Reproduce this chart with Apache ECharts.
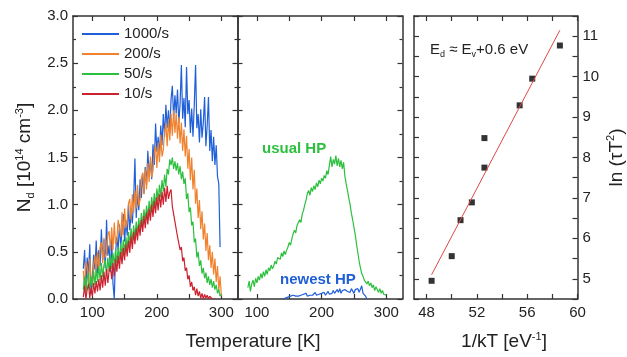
<!DOCTYPE html>
<html>
<head>
<meta charset="utf-8">
<script src="https://cdn.jsdelivr.net/npm/echarts@6/dist/echarts.min.js"></script>
<style>
  html, body { margin: 0; padding: 0; background: #fff; }
  #chart { width: 627px; height: 357px; }
</style>
</head>
<body>
<div id="chart"></div>
<script>
// temperature grid shared by all spectra [K]
const temps = [
  86, 88, 90, 92, 94, 96, 98, 100, 102, 104, 106, 108,
  110, 112, 114, 116, 118, 120, 122, 124, 126, 128, 130, 132,
  134, 136, 138, 140, 142, 144, 146, 148, 150, 152, 154, 156,
  158, 160, 162, 164, 166, 168, 170, 172, 174, 176, 178, 180,
  182, 184, 186, 188, 190, 192, 194, 196, 198, 200, 202, 204,
  206, 208, 210, 212, 214, 216, 218, 220, 222, 224, 226, 228,
  230, 232, 234, 236, 238, 240, 242, 244, 246, 248, 250, 252,
  254, 256, 258, 260, 262, 264, 266, 268, 270, 272, 274, 276,
  278, 280, 282, 284, 286, 288, 290, 292, 294, 296, 298, 300
];

// N_d [1e14 cm^-3], left panel
const nd1000 = [
  0.32, 0.52, 0.14, 0.44, 0.26, 0.58, 0.05, 0.22, 0.47, 0.31, 0.62, 0.27,
  0.52, 0.35, 0.74, 0.41, 0.63, 0.33, 0.84, 0.46, 0.57, 0.29, 0.64, 0.16,
  0.0, 0.49, 0.66, 0.52, 0.79, 0.56, 0.72, 0.9, 0.61, 0.84, 0.67, 1.0,
  0.73, 0.92, 0.8, 1.06, 1.49, 0.86, 1.12, 0.94, 1.27, 1.07, 1.33, 1.12,
  1.4, 1.21, 1.57, 1.31, 1.46, 1.27, 1.64, 1.42, 1.86, 1.56, 1.72, 1.51,
  1.84, 1.63, 1.96, 1.72, 2.06, 1.81, 2.0, 1.76, 2.12, 2.26, 1.91, 2.16,
  1.97, 2.22, 1.86, 2.07, 2.48, 1.91, 2.13, 1.82, 2.46, 1.96, 2.11, 1.76,
  2.02, 1.72, 2.06, 2.48, 1.81, 1.96, 1.66, 2.01, 1.71, 1.87, 2.14, 1.62,
  1.84, 2.14, 1.57, 1.79, 1.46, 1.72, 1.42, 1.63, 1.3, 1.22, 0.55, null
];
const nd200 = [
  0.3, 0.1, 0.4, 0.34, 0.16, 0.43, 0.2, 0.15, 0.37, 0.46, 0.26, 0.5,
  0.3, 0.55, 0.6, 0.38, 0.65, 0.44, 0.48, 0.68, 0.72, 0.51, 0.76, 0.52,
  0.81, 0.58, 0.62, 0.84, 0.86, 0.66, 0.92, 0.68, 0.96, 0.75, 0.81, 1.01,
  1.06, 0.84, 1.11, 0.91, 1.15, 0.96, 1.21, 0.99, 1.05, 1.28, 1.34, 1.11,
  1.38, 1.16, 1.44, 1.24, 1.51, 1.29, 1.36, 1.56, 1.62, 1.39, 1.66, 1.45,
  1.74, 1.51, 1.58, 1.78, 1.86, 1.62, 1.91, 1.68, 1.96, 1.73, 2.0, 1.76,
  1.97, 1.7, 1.93, 1.65, 1.87, 1.57, 1.8, 1.51, 1.73, 1.38, 1.59, 1.26,
  1.5, 1.16, 1.37, 1.01, 1.17, 0.86, 1.05, 0.74, 0.93, 0.63, 0.8, 0.51,
  0.7, 0.41, 0.57, 0.33, 0.5, 0.26, 0.43, 0.18, 0.35, 0.09, 0.24, 0.03
];
const nd50 = [
  0.1, 0.24, 0.07, 0.22, 0.28, 0.09, 0.24, 0.13, 0.3, 0.15, 0.32, 0.18,
  0.35, 0.2, 0.38, 0.23, 0.36, 0.41, 0.25, 0.44, 0.29, 0.47, 0.32, 0.49,
  0.35, 0.52, 0.38, 0.55, 0.41, 0.59, 0.45, 0.63, 0.48, 0.66, 0.52, 0.71,
  0.57, 0.75, 0.61, 0.78, 0.64, 0.82, 0.69, 0.86, 0.73, 0.91, 0.78, 0.95,
  0.82, 0.99, 0.86, 1.04, 0.9, 1.08, 0.95, 1.12, 0.99, 1.17, 1.04, 1.21,
  1.08, 1.26, 1.14, 1.32, 1.19, 1.38, 1.32, 1.48, 1.42, 1.5, 1.38, 1.46,
  1.36, 1.44, 1.32, 1.41, 1.27, 1.35, 1.22, 1.28, 1.06, 1.12, 0.92, 0.97,
  0.78, 0.82, 0.6, 0.64, 0.44, 0.5, 0.35, 0.41, 0.27, 0.33, 0.22, 0.28,
  0.17, 0.24, 0.15, 0.21, 0.12, 0.19, 0.1, 0.15, 0.06, 0.1, 0.03, 0.05
];
const nd10 = [
  0.02, 0.14, 0.0, 0.1, 0.16, 0.01, 0.12, 0.03, 0.17, 0.06, 0.19, 0.08,
  0.21, 0.09, 0.25, 0.12, 0.29, 0.14, 0.32, 0.17, 0.3, 0.35, 0.21, 0.38,
  0.24, 0.42, 0.29, 0.46, 0.32, 0.5, 0.37, 0.54, 0.41, 0.58, 0.45, 0.62,
  0.49, 0.67, 0.53, 0.71, 0.58, 0.75, 0.62, 0.79, 0.67, 0.84, 0.71, 0.88,
  0.75, 0.92, 0.79, 0.96, 0.83, 1.0, 0.87, 1.04, 0.91, 1.08, 0.94, 1.11,
  0.97, 1.14, 1.0, 1.18, 1.03, 1.2, 1.06, 1.13, 1.16, 0.98, 1.0, 0.82,
  0.82, 0.66, 0.67, 0.52, 0.55, 0.4, 0.44, 0.3, 0.33, 0.21, 0.25, 0.13,
  0.18, 0.09, 0.13, 0.04, 0.11, 0.03, 0.08, 0.01, 0.06, 0.0, 0.05, 0.01,
  0.04, 0.0, 0.03, 0.04, 0.0, 0.02, 0.0, null, null, null, null, null
];

// middle panel
const usualHP = [
  0.12, 0.19, 0.08, 0.16, 0.2, 0.13, 0.22, 0.17, 0.24, 0.2, 0.27, 0.22,
  0.29, 0.24, 0.31, 0.26, 0.33, 0.3, 0.36, 0.32, 0.35, 0.4, 0.37, 0.44,
  0.46, 0.42, 0.49, 0.45, 0.51, 0.47, 0.52, 0.55, 0.6, 0.57, 0.64, 0.69,
  0.73, 0.7, 0.78, 0.76, 0.84, 0.81, 0.9, 0.94, 1.0, 1.05, 1.12, 1.15,
  1.1, 1.18, 1.14, 1.2, 1.16, 1.23, 1.19, 1.26, 1.22, 1.28, 1.25, 1.31,
  1.28, 1.36, 1.32, 1.42, 1.51, 1.4, 1.48, 1.43, 1.52, 1.41, 1.49, 1.4,
  1.47, 1.38, 1.45, 1.3, 1.22, 1.15, 1.07, 1.0, 0.91, 0.84, 0.76, 0.68,
  0.58, 0.49, 0.4, 0.33, 0.27, 0.24, 0.2, 0.22, 0.16, 0.19, 0.14, 0.17,
  0.12, 0.15, 0.09, 0.13, 0.1, 0.07, 0.11, 0.06, 0.09, 0.05, 0.07, 0.04
];
const newestHP = [
  null, null, null, null, null, null, null, null, null, null, null, null,
  null, null, null, null, null, null, null, null, null, null, null, null,
  null, null, null, 0.0, 0.02, 0.01, 0.03, 0.02, 0.01, 0.03, 0.02, 0.04,
  0.02, 0.03, 0.05, 0.03, 0.02, 0.04, 0.03, 0.05, 0.04, 0.06, 0.03, 0.05,
  0.04, 0.06, 0.04, 0.05, 0.07, 0.04, 0.06, 0.05, 0.03, 0.06, 0.05, 0.07,
  0.04, 0.06, 0.08, 0.05, 0.07, 0.06, 0.09, 0.06, 0.08, 0.1, 0.07, 0.11,
  0.06, 0.09, 0.07, 0.1, 0.12, 0.08, 0.1, 0.07, 0.11, 0.09, 0.06, 0.1,
  0.08, 0.11, 0.07, 0.09, 0.14, 0.06, 0.08, 0.03, 0.0, null, null, null,
  null, null, null, null, null, null, null, null, null, null, null, null
];

// Arrhenius plot, right panel
const invKT = [48.4, 50.0, 50.7, 51.6, 52.6, 52.6, 55.4, 56.4, 58.6];
const lnTauT2 = [4.95, 5.56, 6.45, 6.89, 7.75, 8.48, 9.29, 9.95, 10.77];
const fitX = [48.4, 58.6];
const fitY = [5.1, 11.15];

// ticks
const tempLabels = [100, 200, 300];
const tempTicks = [100, 150, 200, 250, 300];
const invLabels = [48, 52, 56, 60];
const invTicks = [48, 50, 52, 54, 56, 58, 60];
const lnLabels = [5, 6, 7, 8, 9, 10, 11];
const lnTicks = [4.5, 5, 5.5, 6, 6.5, 7, 7.5, 8, 8.5, 9, 9.5, 10, 10.5, 11, 11.5];

const FONT = '"Liberation Sans", Arial, sans-serif';
const INK = '#222';
const C = { blue: '#1f5fd8', orange: '#f0822e', green: '#2cc03e', red: '#cc2230' };

const pairs = (xs, ys) => xs.map((x, i) => [x, ys[i]]);

const axisLine = { show: true, onZero: false, lineStyle: { color: '#333', width: 1.5 } };
const tickStyle = { color: '#333', width: 1.2 };
const labelStyle = { color: INK, fontSize: 15, fontFamily: FONT };
const rich = {
  a: { fontSize: 19, fontFamily: FONT, color: INK, lineHeight: 22 },
  sub: { fontSize: 11, fontFamily: FONT, color: INK, lineHeight: 8, verticalAlign: 'bottom' },
  sup: { fontSize: 11, fontFamily: FONT, color: INK, lineHeight: 8, verticalAlign: 'top' }
};

function tempAxis(gridIndex, top) {
  return {
    type: 'value', gridIndex, position: top ? 'top' : 'bottom', min: 70, max: 325,
    axisLine,
    axisTick: { inside: true, length: 5, customValues: tempTicks, lineStyle: tickStyle },
    axisLabel: Object.assign({ show: !top, customValues: tempLabels, margin: 6 }, labelStyle),
    splitLine: { show: false }
  };
}
function ndAxis(gridIndex, right, labeled) {
  return {
    type: 'value', gridIndex, position: right ? 'right' : 'left', min: 0, max: 3, interval: 0.5,
    axisLine,
    axisTick: { inside: true, length: 5, lineStyle: tickStyle },
    minorTick: { show: true, splitNumber: 2, length: 3, lineStyle: tickStyle },
    axisLabel: Object.assign({ show: labeled, margin: 5, formatter: v => v.toFixed(1) }, labelStyle),
    splitLine: { show: false }, minorSplitLine: { show: false }
  };
}
function invAxis(top) {
  return {
    type: 'value', gridIndex: 2, position: top ? 'top' : 'bottom', min: 47, max: 60,
    axisLine,
    axisTick: { inside: true, length: 5, customValues: invTicks, lineStyle: tickStyle },
    axisLabel: Object.assign({ show: !top, customValues: invLabels, margin: 6 }, labelStyle),
    splitLine: { show: false }
  };
}
function lnAxis(right) {
  return {
    type: 'value', gridIndex: 2, position: right ? 'right' : 'left', min: 4.5, max: 11.5,
    axisLine,
    axisTick: { inside: true, length: 5, customValues: lnTicks, lineStyle: tickStyle },
    axisLabel: Object.assign({ show: right, customValues: lnLabels, margin: 5 }, labelStyle),
    splitLine: { show: false }
  };
}

function lineSeries(name, xi, yi, ys, color) {
  return {
    name, type: 'line', xAxisIndex: xi, yAxisIndex: yi, data: pairs(temps, ys),
    symbol: 'none', lineStyle: { width: 1.2, color }, itemStyle: { color }
  };
}

const leftY = ndAxis(0, false, true);
leftY.name = '{a|N}{sub|d}{a| [10}{sup|14}{a| cm}{sup|-3}{a|]}';
leftY.nameLocation = 'middle';
leftY.nameRotate = 90;
leftY.nameGap = 37;
leftY.nameTextStyle = { rich };

const rightY = lnAxis(true);
rightY.name = '{a|ln (\u03C4T}{sup|2}{a|)}';
rightY.nameLocation = 'middle';
rightY.nameRotate = 90;
rightY.nameGap = 28;
rightY.nameTextStyle = { rich };

const chart = echarts.init(document.getElementById('chart'));
chart.setOption({
  animation: false,
  backgroundColor: '#fff',
  grid: [
    { left: 73, top: 16, width: 164.5, bottom: 58 },
    { left: 237.5, top: 16, width: 165, bottom: 58 },
    { left: 414, top: 16, width: 164, bottom: 58 }
  ],
  xAxis: [tempAxis(0, false), tempAxis(0, true), tempAxis(1, false), tempAxis(1, true), invAxis(false), invAxis(true)],
  yAxis: [leftY, ndAxis(0, true, false), ndAxis(1, false, false), ndAxis(1, true, false), lnAxis(false), rightY],
  legend: {
    data: ['1000/s', '200/s', '50/s', '10/s'],
    orient: 'vertical', left: 82, top: 26.5, padding: 0,
    icon: 'rect', itemWidth: 37, itemHeight: 2, itemGap: 5,
    textStyle: { color: INK, fontSize: 15, fontFamily: FONT }
  },
  series: [
    lineSeries('1000/s', 0, 0, nd1000, C.blue),
    lineSeries('200/s', 0, 0, nd200, C.orange),
    lineSeries('50/s', 0, 0, nd50, C.green),
    lineSeries('10/s', 0, 0, nd10, C.red),
    lineSeries('usual HP', 2, 2, usualHP, C.green),
    lineSeries('newest HP', 2, 2, newestHP, C.blue),
    {
      name: 'fit', type: 'line', xAxisIndex: 4, yAxisIndex: 4, data: pairs(fitX, fitY),
      symbol: 'none', lineStyle: { width: 1, color: '#e04848' }
    },
    {
      name: 'ln(tauT2)', type: 'scatter', xAxisIndex: 4, yAxisIndex: 4, data: pairs(invKT, lnTauT2),
      symbol: 'rect', symbolSize: 6, itemStyle: { color: '#000' }
    }
  ],
  graphic: [
    { type: 'text', x: 262, y: 149, style: { text: 'usual HP', fill: C.green, font: 'bold 15px ' + FONT, align: 'left', verticalAlign: 'middle' } },
    { type: 'text', x: 280, y: 280, style: { text: 'newest HP', fill: C.blue, font: 'bold 15px ' + FONT, align: 'left', verticalAlign: 'middle' } },
    {
      type: 'text', x: 430, y: 50,
      style: {
        text: '{e|E}{s|d}{e| \u2248 E}{s|v}{e|+0.6 eV}', align: 'left', verticalAlign: 'middle',
        rich: {
          e: { fontSize: 15, fontFamily: FONT, fill: INK, lineHeight: 18 },
          s: { fontSize: 9, fontFamily: FONT, fill: INK, lineHeight: 7, verticalAlign: 'bottom' }
        }
      }
    },
    { type: 'text', x: 253, y: 342, style: { text: 'Temperature [K]', fill: INK, font: '19px ' + FONT, align: 'center', verticalAlign: 'middle' } },
    {
      type: 'text', x: 504, y: 342,
      style: {
        text: '{e|1/kT [eV}{p|-1}{e|]}', align: 'center', verticalAlign: 'middle',
        rich: {
          e: { fontSize: 19, fontFamily: FONT, fill: INK, lineHeight: 22 },
          p: { fontSize: 11, fontFamily: FONT, fill: INK, lineHeight: 8, verticalAlign: 'top' }
        }
      }
    }
  ]
});
</script>
</body>
</html>
